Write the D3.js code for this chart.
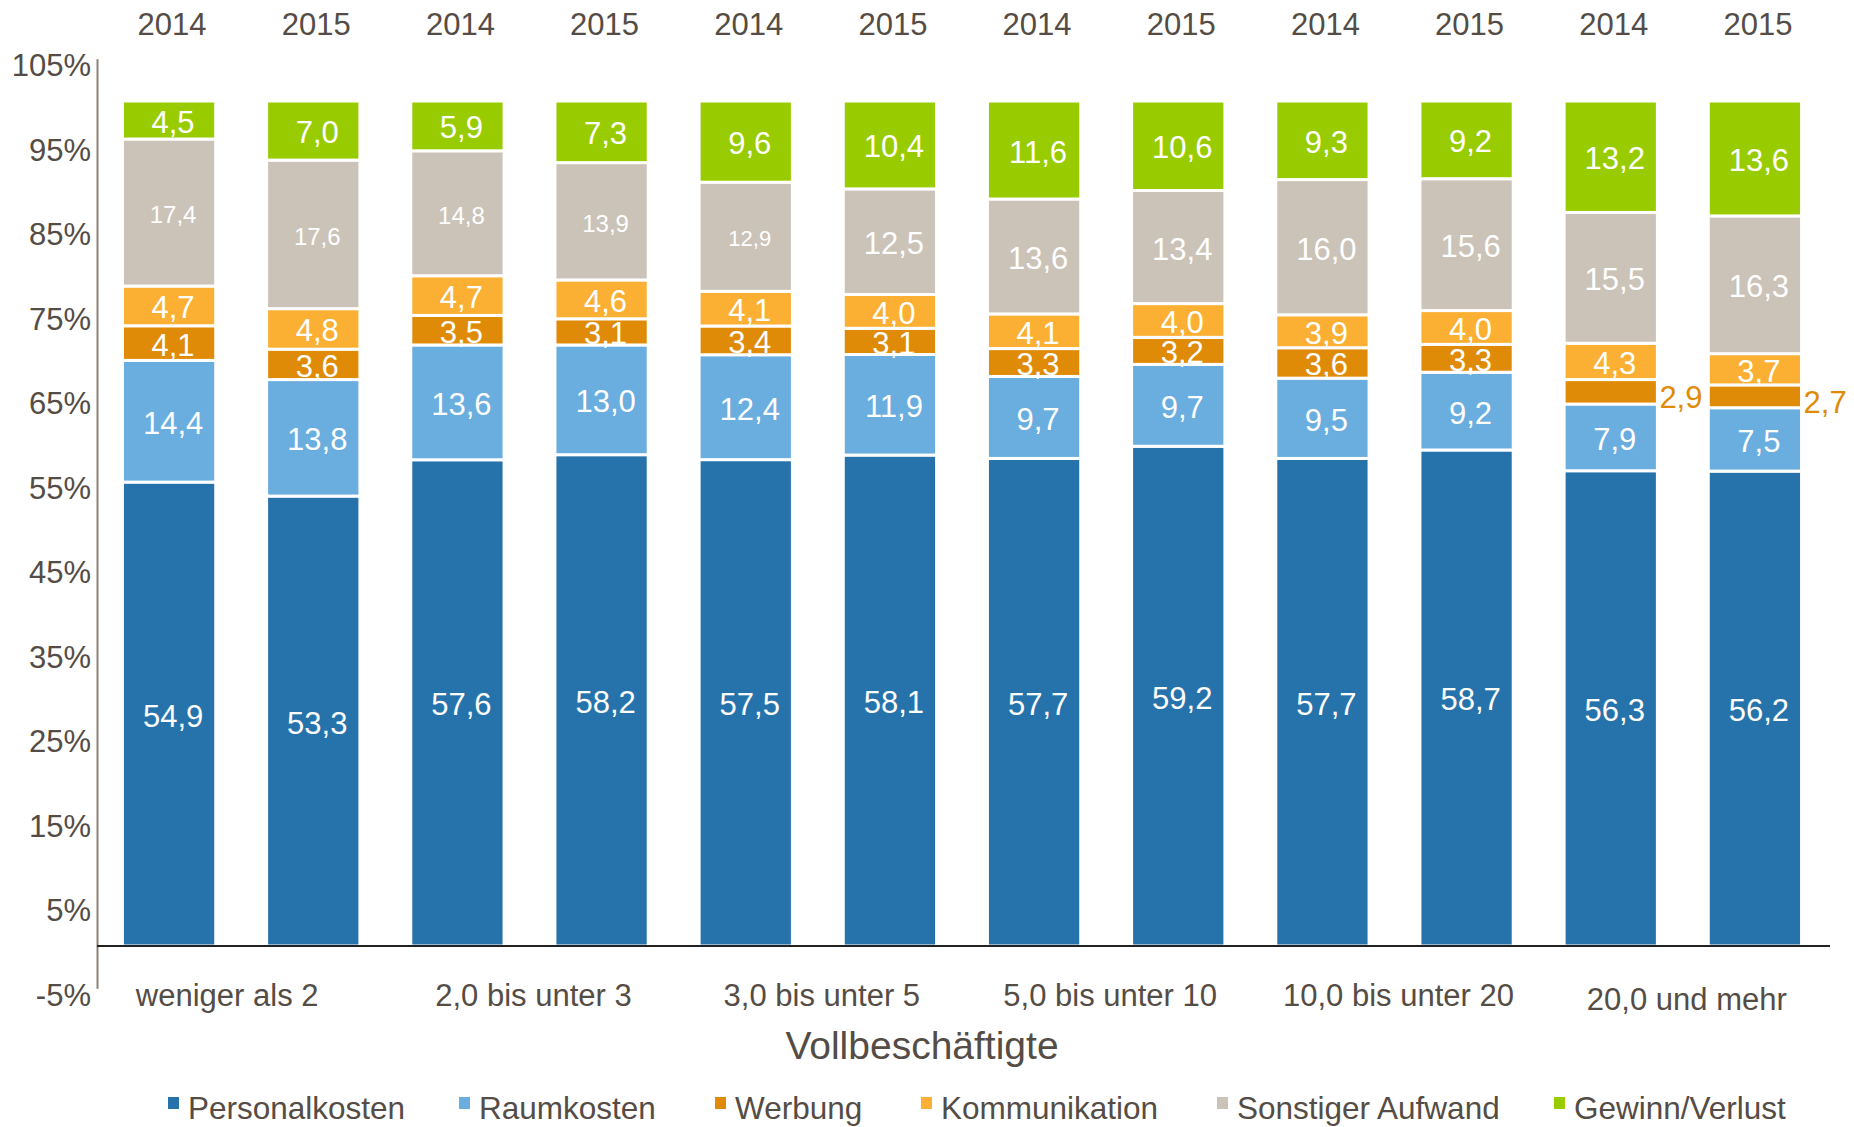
<!DOCTYPE html>
<html>
<head>
<meta charset="utf-8">
<script src="https://cdn.jsdelivr.net/npm/d3@7"></script>
<style>
  body { margin: 0; background: #fff; }
  svg text { font-family: "Liberation Sans", Arial, sans-serif; }
</style>
</head>
<body>
<svg width="1854" height="1127"></svg>
<script>
const SVG_W = 1854;
const SVG_H = 1127;

const years = ["2014","2015","2014","2015","2014","2015","2014","2015","2014","2015","2014","2015"];
const groups = ["weniger als 2", "2,0 bis unter 3", "3,0 bis unter 5", "5,0 bis unter 10", "10,0 bis unter 20", "20,0 und mehr"];
const seriesNames = ["Personalkosten", "Raumkosten", "Werbung", "Kommunikation", "Sonstiger Aufwand", "Gewinn/Verlust"];
const seriesColors = ["#2673ab", "#6aaddf", "#e08b07", "#fbb034", "#cbc2b8", "#99cc00"];

const personal = [54.9, 53.3, 57.6, 58.2, 57.5, 58.1, 57.7, 59.2, 57.7, 58.7, 56.3, 56.2];
const raum     = [14.4, 13.8, 13.6, 13.0, 12.4, 11.9, 9.7, 9.7, 9.5, 9.2, 7.9, 7.5];
const werbung  = [4.1, 3.6, 3.5, 3.1, 3.4, 3.1, 3.3, 3.2, 3.6, 3.3, 2.9, 2.7];
const komm     = [4.7, 4.8, 4.7, 4.6, 4.1, 4.0, 4.1, 4.0, 3.9, 4.0, 4.3, 3.7];
const sonstig  = [17.4, 17.6, 14.8, 13.9, 12.9, 12.5, 13.6, 13.4, 16.0, 15.6, 15.5, 16.3];
const gewinn   = [4.5, 7.0, 5.9, 7.3, 9.6, 10.4, 11.6, 10.6, 9.3, 9.2, 13.2, 13.6];

const yTicks = [-0.05, 0.05, 0.15, 0.25, 0.35, 0.45, 0.55, 0.65, 0.75, 0.85, 0.95, 1.05];

const TEXT_COL = "#544c45";

const allSeries = [personal, raum, werbung, komm, sonstig, gewinn];
const table = years.map((yr, i) => {
  const row = {idx: i, year: yr};
  seriesNames.forEach((s, k) => row[s] = allSeries[k][i]);
  return row;
});

const svg = d3.select("svg");

const x = d3.scaleBand()
  .domain(d3.range(years.length))
  .range([97, 1827])
  .paddingInner(0.353)
  .paddingOuter(0.1765);

const y = d3.scaleLinear()
  .domain([-0.05, 1.05])
  .range([988.25, 58.75]);

const stack = d3.stack()
  .keys(seriesNames)
  .offset(d3.stackOffsetExpand);
const layers = stack(table);

// bars
svg.append("g")
  .selectAll("g")
  .data(layers)
  .join("g")
  .attr("fill", (d, k) => seriesColors[k])
  .selectAll("rect")
  .data(d => d)
  .join("rect")
  .attr("x", d => x(d.data.idx))
  .attr("width", x.bandwidth())
  .attr("y", d => y(d[1]))
  .attr("height", d => y(d[0]) - y(d[1]))
  .attr("stroke", "#fff")
  .attr("stroke-width", 3);

// value labels (Werbung of the last two bars sits outside, to the right)
const isOutside = (k, d) => k === 2 && d.data.idx >= 10;
layers.forEach((layer, k) => {
  svg.append("g")
    .selectAll("text")
    .data(layer)
    .join("text")
    .attr("x", d => isOutside(k, d) ? x(d.data.idx) + x.bandwidth() + 2 : x(d.data.idx) + x.bandwidth() / 2 + 4)
    .attr("y", d => (y(d[0]) + y(d[1])) / 2 + (isOutside(k, d) ? 6 : 2))
    .attr("text-anchor", d => isOutside(k, d) ? "start" : "middle")
    .attr("dominant-baseline", "central")
    .attr("font-size", d => (k === 4 && d.data.idx < 5) ? (d.data.idx === 4 ? 22 : 24) : 31)
    .attr("fill", d => isOutside(k, d) ? seriesColors[2] : "#fff")
    .text(d => d3.format(".1f")(d.data[seriesNames[k]]).replace(".", ","));
});

// y axis
const yAxis = svg.append("g")
  .attr("transform", "translate(97,0)")
  .call(d3.axisLeft(y).tickValues(yTicks).tickSize(0).tickPadding(6)
    .tickFormat(d => Math.round(d * 100) + "%"));
yAxis.select(".domain").attr("stroke", "#8c8279").attr("stroke-width", 2);
yAxis.selectAll("text")
  .attr("font-size", 31)
  .attr("fill", TEXT_COL)
  .attr("font-family", "Liberation Sans, Arial, sans-serif")
  .attr("dy", "0.55em");

// zero line
svg.append("line")
  .attr("x1", 97).attr("x2", 1830)
  .attr("y1", y(0)).attr("y2", y(0))
  .attr("stroke", "#222").attr("stroke-width", 2);

// year labels
svg.append("g")
  .selectAll("text")
  .data(years)
  .join("text")
  .attr("x", (d, i) => x(i) + x.bandwidth() / 2 + 3)
  .attr("y", 24)
  .attr("text-anchor", "middle")
  .attr("dominant-baseline", "central")
  .attr("font-size", 31)
  .attr("fill", TEXT_COL)
  .text(d => d);

// group labels
svg.append("g")
  .selectAll("text")
  .data(groups)
  .join("text")
  .attr("x", (d, g) => (x(2 * g) + x(2 * g + 1) + x.bandwidth()) / 2 + (g === 0 ? -14 : 4))
  .attr("y", (d, g) => g === 5 ? 999 : 995)
  .attr("text-anchor", "middle")
  .attr("dominant-baseline", "central")
  .attr("font-size", 31)
  .attr("fill", TEXT_COL)
  .text(d => d);

svg.append("text")
  .attr("x", 922)
  .attr("y", 1045)
  .attr("text-anchor", "middle")
  .attr("dominant-baseline", "central")
  .attr("font-size", 39)
  .attr("fill", TEXT_COL)
  .text("Vollbeschäftigte");

// legend
const legendX = [168, 459, 715, 921, 1217, 1554];
const legend = svg.append("g")
  .selectAll("g")
  .data(seriesNames)
  .join("g")
  .attr("transform", (d, k) => `translate(${legendX[k]},1119)`);
legend.append("rect")
  .attr("x", 0).attr("y", -22)
  .attr("width", 11).attr("height", 12)
  .attr("fill", (d, k) => seriesColors[k]);
legend.append("text")
  .attr("x", 20)
  .attr("y", 0)
  .attr("font-size", 31.5)
  .attr("fill", TEXT_COL)
  .text(d => d);
</script>
</body>
</html>
